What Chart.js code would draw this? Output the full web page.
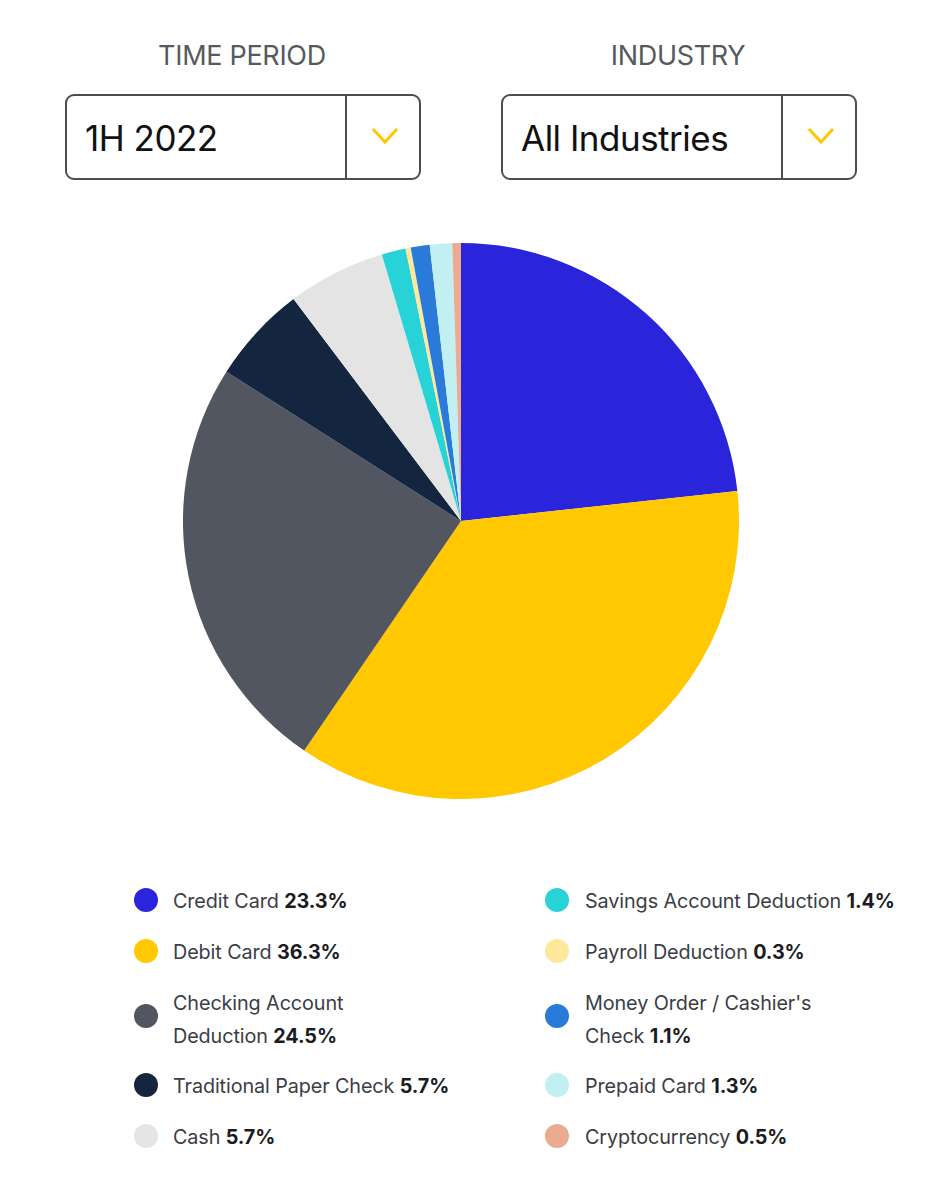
<!DOCTYPE html>
<html>
<head>
<meta charset="utf-8">
<script src="https://cdn.jsdelivr.net/npm/chart.js@4/dist/chart.umd.min.js"></script>
<style>
  html, body { margin:0; padding:0; background:#fff; width:940px; height:1201px; overflow:hidden; font-family: Inter, "Noto Sans", sans-serif; }
  .lbl { position:absolute; top:39px; font-size:27px; color:#555a60; text-align:center; width:356px; letter-spacing:-0.3px; }
  .box { position:absolute; top:94px; width:352px; height:82px; border:2px solid #4a4d55; border-radius:9px; box-sizing:content-box; }
  .box .txt { position:absolute; left:18px; top:1px; line-height:82px; font-size:35px; color:#111; letter-spacing:-0.5px; }
  .box .div { position:absolute; top:0; width:2px; height:82px; background:#4a4d55; }
  .box svg { position:absolute; top:29px; }
  #wrap { position:absolute; left:183px; top:243px; width:556px; height:556px; }
  .leg { position:absolute; font-size:19.8px; color:#3a3d44; line-height:33px; letter-spacing:-0.1px; }
  .leg b { color:#1a1c22; font-weight:700; }
  .dot { position:absolute; width:24px; height:24px; border-radius:50%; }
  .ltxt { position:absolute; white-space:pre-line; }
</style>
</head>
<body>
<div class="lbl" style="left:64px;">TIME PERIOD</div>
<div class="box" style="left:65px;">
  <div class="txt">1H 2022</div>
  <div class="div" style="left:278px;"></div>
  <svg width="30" height="24" style="left:303px;" viewBox="0 0 30 24"><polyline points="3,4 15,17 27,4" fill="none" stroke="#ffc700" stroke-width="3"/></svg>
</div>
<div class="lbl" style="left:500px;">INDUSTRY</div>
<div class="box" style="left:501px;">
  <div class="txt">All Industries</div>
  <div class="div" style="left:278px;"></div>
  <svg width="30" height="24" style="left:303px;" viewBox="0 0 30 24"><polyline points="3,4 15,17 27,4" fill="none" stroke="#ffc700" stroke-width="3"/></svg>
</div>

<div id="wrap"><canvas id="c"></canvas></div>
<div id="legend"></div>

<script>
const categories = ["Credit Card", "Debit Card", "Checking Account\nDeduction", "Traditional Paper Check", "Cash",
                    "Savings Account Deduction", "Payroll Deduction", "Money Order / Cashier's\nCheck", "Prepaid Card", "Cryptocurrency"];
const shares = [23.3, 36.3, 24.5, 5.7, 5.7, 1.4, 0.3, 1.1, 1.3, 0.5];
const colors = ["#2a24db", "#ffc800", "#525660", "#14253f", "#e4e4e4", "#27d3d6", "#fde89c", "#2a7bd9", "#c2eff2", "#eaab91"];

new Chart(document.getElementById('c'), {
  type: 'pie',
  data: {
    labels: categories,
    datasets: [{ data: shares, backgroundColor: colors, borderWidth: 0 }]
  },
  options: {
    responsive: true,
    maintainAspectRatio: false,
    animation: false,
    layout: { padding: 0 },
    plugins: { legend: { display: false }, tooltip: { enabled: false } }
  }
});

// HTML legend, two columns, column-major
const rowsY = [887, 938, 989, 1072, 1123];
const dotY  = [888, 939, 1004, 1073, 1124];
categories.forEach((name, i) => {
  const col = Math.floor(i / 5), row = i % 5;
  const dotX = col === 0 ? 134 : 545;
  const txtX = col === 0 ? 173 : 585;
  const d = document.createElement('div');
  d.className = 'dot';
  d.style.left = dotX + 'px';
  d.style.top = dotY[row] + 'px';
  d.style.background = colors[i];
  document.body.appendChild(d);
  const t = document.createElement('div');
  t.className = 'leg ltxt';
  t.style.left = txtX + 'px';
  t.style.top = (rowsY[row] - 2) + 'px';
  t.innerHTML = name.replace(/&/g,'&amp;') + ' <b>' + shares[i].toFixed(1) + '%</b>';
  document.body.appendChild(t);
});
</script>
</body>
</html>
